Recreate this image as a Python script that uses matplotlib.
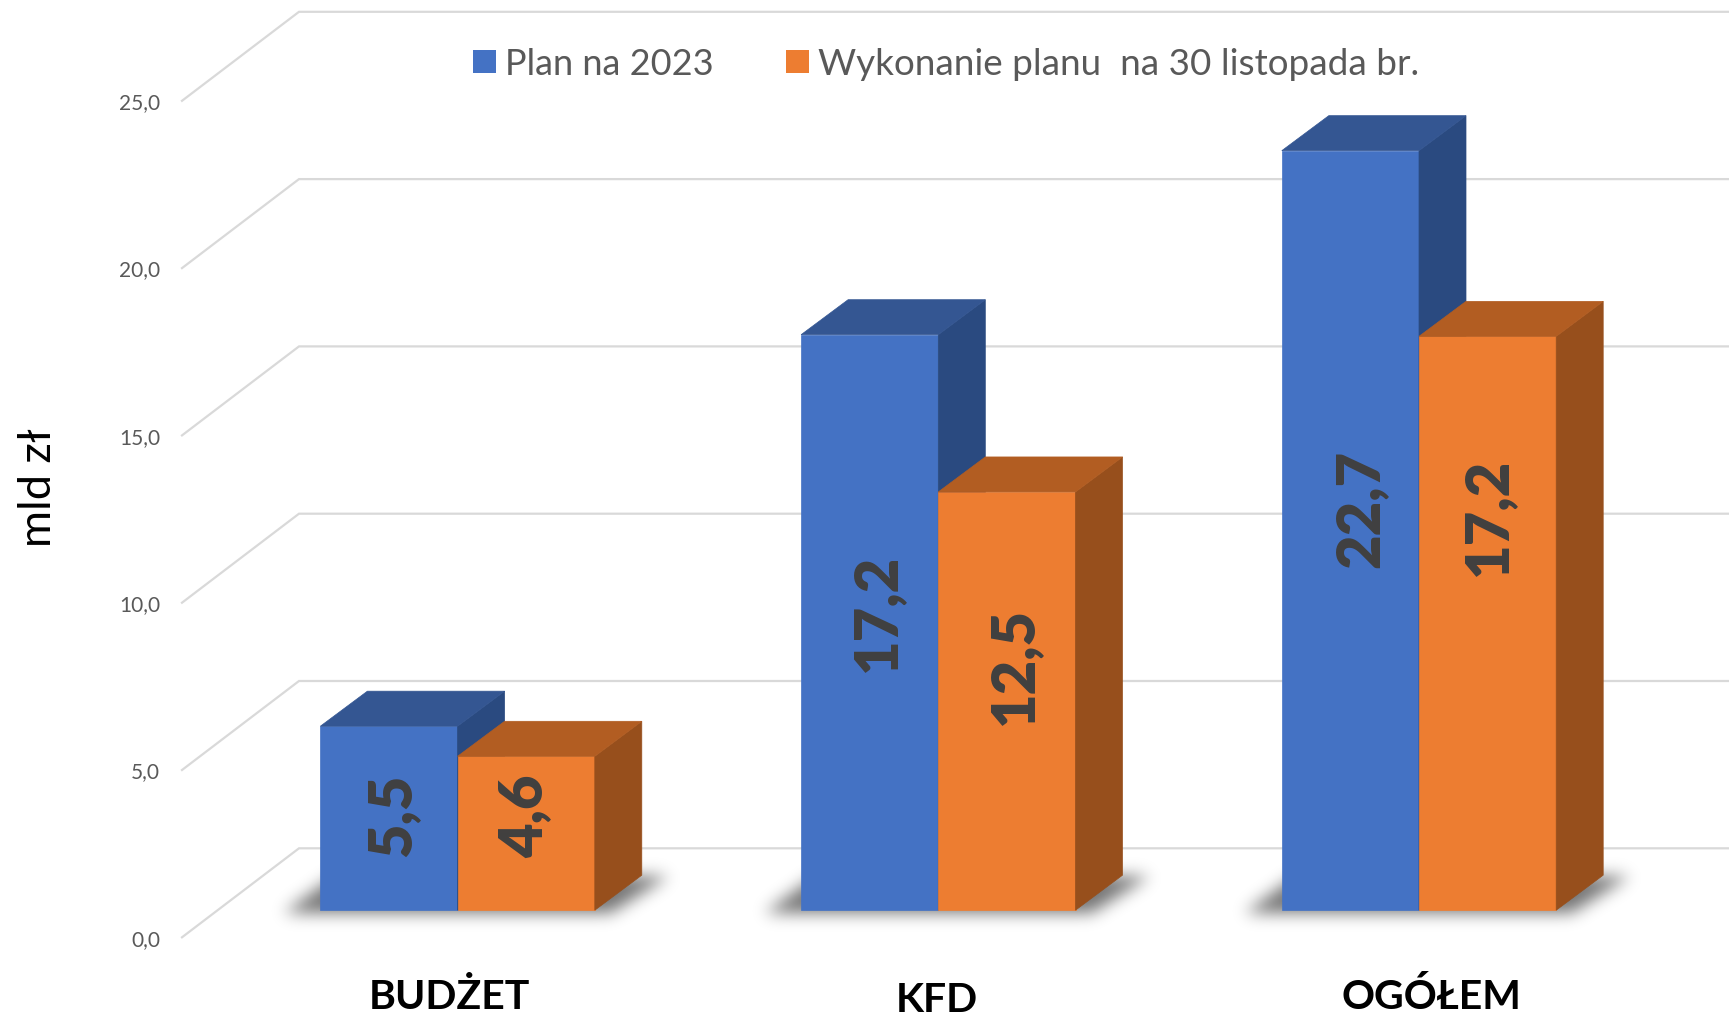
import numpy as np
import matplotlib
matplotlib.use("Agg")
import matplotlib.pyplot as plt
from matplotlib.path import Path
from matplotlib.patches import Polygon, Rectangle

# data
categories = ["BUDŻET", "KFD", "OGÓŁEM"]
plan = [5.5, 17.2, 22.7]
wykonanie = [4.6, 12.5, 17.15]
plan_labels = ["5,5", "17,2", "22,7"]
wykonanie_labels = ["4,6", "12,5", "17,2"]
y_ticks = [0, 5, 10, 15, 20, 25]
y_tick_labels = ["0,0", "5,0", "10,0", "15,0", "20,0", "25,0"]
legend_names = ["Plan na 2023", "Wykonanie planu  na 30 listopada br."]

# label heights along the bars, the labels were moved by hand in the original
plan_label_y = [2.87, 8.91, 12.03]
wykonanie_label_y = [2.85, 7.32, 11.78]

# pixel layout of the fake 3d box
W, H = 1729, 1020
BASE_Y = 911.2       # pixel of value 0 on the bar front
PX_PER_UNIT = 33.46
CAT_X0 = 457.6       # pixel where the two bars of first group meet
CAT_STEP = 480.7
BAR_W = 137.2 / CAT_STEP
DEPTH_X = 47 / CAT_STEP
DEPTH_Y = 35 / PX_PER_UNIT


def px_x(p):
    return (p - CAT_X0) / CAT_STEP


def px_y(p):
    return (BASE_Y - p) / PX_PER_UNIT


plt.rcParams["font.family"] = ["Lato", "DejaVu Sans"]

fig = plt.figure(figsize=(W / 100, H / 100), dpi=100)
ax = fig.add_axes([0, 0, 1, 1])
ax.set_xlim(px_x(0), px_x(W))
ax.set_ylim(px_y(H), px_y(0))
ax.axis("off")

# grid on the back wall and on the left wall
grid_col = "#D9D9D9"
for v, lab in zip(y_ticks, y_tick_labels):
    back = v + 1.85
    front = v - 0.81
    ax.plot([px_x(182), px_x(299), px_x(W)], [front, back, back], color=grid_col,
            lw=1.6, zorder=1, solid_joinstyle="miter")
    ax.text(px_x(160), front - 0.04, lab, ha="right", va="center", fontsize=15,
            color="#595959")


def draw_shadow(i):
    # blurred parallelogram under one group
    off = i * CAT_STEP
    corners = np.array([[284, 913], [335, 876], [668, 876], [610, 913]], dtype=float)
    corners[:, 0] += off
    x0, x1 = corners[:, 0].min() - 40, corners[:, 0].max() + 40
    y0, y1 = corners[:, 1].min() - 40, corners[:, 1].max() + 40
    xx, yy = np.meshgrid(np.arange(x0, x1), np.arange(y0, y1))
    pts = np.column_stack([xx.ravel(), yy.ravel()])
    mask = Path(corners).contains_points(pts).reshape(xx.shape).astype(float)
    t = np.arange(-24, 25)
    kern = np.exp(-t**2 / (2 * 8.0**2))
    kern /= kern.sum()
    mask = np.apply_along_axis(np.convolve, 0, mask, kern, mode="same")
    mask = np.apply_along_axis(np.convolve, 1, mask, kern, mode="same")
    img = np.zeros(mask.shape + (4,))
    img[..., 3] = mask * 0.55
    ax.imshow(img, extent=[px_x(x0), px_x(x1), px_y(y1), px_y(y0)], origin="upper",
              aspect="auto", zorder=2, interpolation="bilinear")


def draw_bars(centers, values, front, top, side):
    ax.bar(centers, values, width=BAR_W, align="edge", color=front, edgecolor=front, lw=0.5, zorder=3)
    for x, v in zip(centers, values):
        x1 = x + BAR_W
        ax.add_patch(Polygon([(x1, 0), (x1 + DEPTH_X, DEPTH_Y), (x1 + DEPTH_X, v + DEPTH_Y), (x1, v)],
                             closed=True, facecolor=side, edgecolor=side, lw=0.5, zorder=3))
        ax.add_patch(Polygon([(x, v), (x + DEPTH_X, v + DEPTH_Y), (x1 + DEPTH_X, v + DEPTH_Y), (x1, v)],
                             closed=True, facecolor=top, edgecolor=top, lw=0.5, zorder=3))


for i in range(len(categories)):
    draw_shadow(i)
ax.set_xlim(px_x(0), px_x(W))
ax.set_ylim(px_y(H), px_y(0))

idx = np.arange(len(categories))
draw_bars(idx - BAR_W, plan, "#4472C4", "#345692", "#2A4A80")
draw_bars(idx, wykonanie, "#ED7D31", "#B25D22", "#974F1C")

# data labels
lab_col = "#404040"
plan_dx = [4, 8, 10]
wyk_dx = [-1, 8, 1]
for i in idx:
    ax.text(i - BAR_W / 2 + plan_dx[i] / CAT_STEP, plan_label_y[i], plan_labels[i], rotation=90,
            ha="center", va="center", fontsize=43, fontweight="heavy", color=lab_col, zorder=5)
    ax.text(i + BAR_W / 2 + wyk_dx[i] / CAT_STEP, wykonanie_label_y[i], wykonanie_labels[i], rotation=90,
            ha="center", va="center", fontsize=43, fontweight="heavy", color=lab_col, zorder=5)

# category labels
cat_px = [449, 937, 1431]
cat_py = [1009, 1012, 1009]
for name, cx, cy in zip(categories, cat_px, cat_py):
    ax.text(px_x(cx), px_y(cy), name, ha="center", va="baseline", fontsize=29.5,
            fontweight="bold", color="black")

ax.text(px_x(38.5), px_y(488), "mld zł", rotation=90, ha="center", va="center",
        fontsize=32.5, color="black")

# legend
legend_sizes = [26, 26.6]
for name, col, sq_x, txt_x, fs in zip(legend_names, ["#4472C4", "#ED7D31"], [473, 786], [505, 818], legend_sizes):
    ax.add_patch(Rectangle((px_x(sq_x), px_y(73.9)), 22.5 / CAT_STEP, 23.2 / PX_PER_UNIT,
                           facecolor=col, edgecolor="none", zorder=4))
    ax.text(px_x(txt_x), px_y(64), name, ha="left", va="center", fontsize=fs, color="#595959")

fig.savefig("out.png", dpi=100)
